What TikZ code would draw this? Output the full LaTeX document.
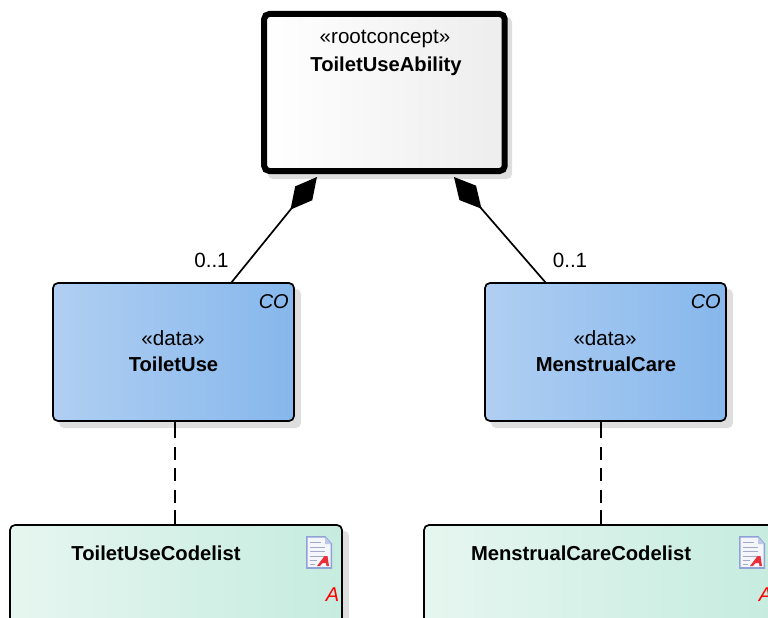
\documentclass[tikz,border=0pt]{standalone}
\usepackage{fontspec}
\setmainfont{Liberation Sans}
\usetikzlibrary{arrows.meta}
\definecolor{shadowgrey}{HTML}{DEDEDE}
\definecolor{blueL}{HTML}{B0CFF2}
\definecolor{blueR}{HTML}{86B7EC}
\definecolor{greenL}{HTML}{E6F6F0}
\definecolor{greenR}{HTML}{C6ECDF}
\definecolor{rootR}{HTML}{EDEDED}
\definecolor{iconblue}{HTML}{8FA3D6}
\definecolor{iconline}{HTML}{A3A9C8}
\definecolor{iconpage}{HTML}{F4F6FC}
\definecolor{iconred}{HTML}{E8303A}
\tikzset{
  x=1pt, y=-1pt,
  cls/.style={rectangle, rounded corners=5pt, inner sep=0pt, outer sep=0pt, anchor=north west, draw=black, line width=1.7pt},
  rootbox/.style={cls, line width=6pt, rounded corners=5pt, left color=white, right color=rootR, minimum width=240.5pt, minimum height=157pt},
  databox/.style={cls, left color=blueL, right color=blueR, minimum width=241pt, minimum height=138pt},
  codebox/.style={cls, left color=greenL, right color=greenR, minimum height=140pt},
  shade box/.style={fill=shadowgrey, rounded corners=5pt},
  label reg/.style={font=\fontsize{20.6}{24}\selectfont, inner sep=0pt, anchor=base},
  label bold/.style={font=\fontsize{20.2}{24}\selectfont\bfseries, inner sep=0pt, anchor=base},
  label it/.style={font=\fontsize{20}{24}\selectfont\itshape, inner sep=0pt, anchor=base east},
  comp/.style={line width=1.7pt, black, -{Kite[length=42pt,width=22pt,inset=21pt]}},
  link/.style={line width=1.7pt, black, dash pattern=on 17pt off 9pt on 12.7pt off 8.3pt on 13pt off 9pt on 13pt off 7pt on 15pt off 5pt},
}
\newcommand{\docicon}[2]{%
  \begin{scope}[shift={(#1,#2)}]
    \fill[iconpage, draw=iconblue, line width=1.6pt] (0.8,0.8) -- (19,0.8) -- (25.4,8) -- (25.4,32) -- (0.8,32) -- cycle;
    \fill[iconblue!60] (19,0.8) -- (25.4,8) -- (19,8) -- cycle;
    \draw[iconline, line width=1pt] (4,6) -- (15,6) (4,11) -- (19,11) (4,15.5) -- (19,15.5) (4,20) -- (19,20) (4,24.5) -- (11,24.5) (4,28) -- (9,28);
    \fill[iconred] (11,30) -- (18.5,20) -- (21.5,20) -- (23,30) -- (20.5,30) -- (20,27) -- (16.5,27) -- (14,30) -- cycle;
  \end{scope}}
\begin{document}
\begin{tikzpicture}
\useasboundingbox (0,0) rectangle (768,618);
\clip (0,0) rectangle (768,618);
% shadows
\fill[shade box] (268,17) rectangle (512,179);
\fill[shade box] (59,289) rectangle (301,428);
\fill[shade box] (491,289) rectangle (733,428);
\fill[shade box] (16,531) rectangle (349,680);
\fill[shade box] (430,531) rectangle (782,680);
% boxes
\node[rootbox] (root) at (264.2,14) {};
\node[databox] (use) at (53,283) {};
\node[databox] (care) at (485,283) {};
\node[codebox, minimum width=332pt] (usecode) at (10,525) {};
\node[codebox, minimum width=351pt] (carecode) at (424,525) {};
% connectors
\draw[comp] ([xshift=57.5pt]use.north) -- ([xshift=-67.5pt,yshift=-6pt]root.south);
\draw[comp] ([xshift=-59.5pt]care.north) -- ([xshift=69.5pt,yshift=-6pt]root.south);
\draw[link] (use.south -| 175,0) -- (usecode.north -| 175,0);
\draw[link] (care.south -| 601,0) -- (carecode.north -| 601,0);
% texts
\node[label reg] (t1) at (385,44) {«rootconcept»};
\node[label bold] (t2) at (386,71) {ToiletUseAbility};
\node[label reg] (t3) at (173,345) {«data»};
\node[label bold] (t4) at (173.5,371) {ToiletUse};
\node[label reg] (t5) at (605,345) {«data»};
\node[label bold] (t6) at (606,371) {MenstrualCare};
\node[label bold] (t7) at (156,560.5) {ToiletUseCodelist};
\node[label bold] (t8) at (581,560.5) {MenstrualCareCodelist};
\node[label reg] (m1) at (211.5,267) {0..1};
\node[label reg] (m2) at (570,267) {0..1};
\node[label it] (c1) at (289,308) {CO};
\node[label it] (c2) at (721,308) {CO};
\node[label it, red] (a1) at (339.5,601) {A};
\node[label it, red] (a2) at (772.5,601) {A};
\docicon{306}{536}
\docicon{739}{536}
\end{tikzpicture}
\end{document}
